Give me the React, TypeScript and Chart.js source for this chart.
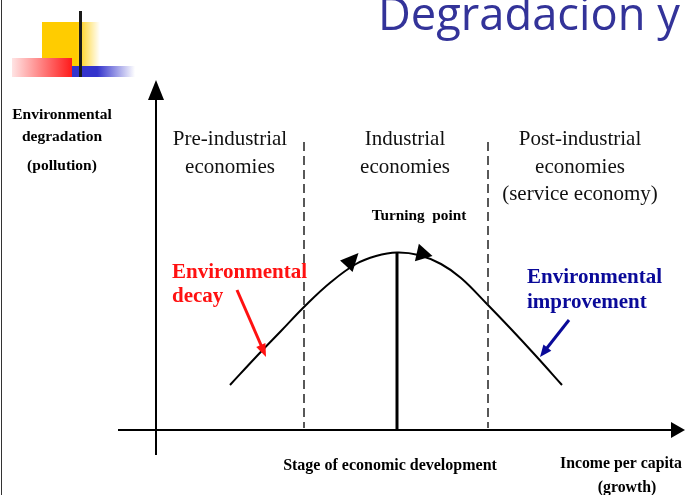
import React, { useEffect, useRef } from "react";
import { Chart, registerables } from "chart.js";

Chart.register(...registerables);

// ---- Data (income per capita units, environmental degradation units) ----
const curveIncome = [14.8, 20, 25, 30, 35, 40, 44, 48.2, 52.5, 57, 61, 66, 71, 76, 81.2];
const curveDegradation = [9.0, 14.6, 19.8, 25.0, 29.6, 33.2, 34.8, 35.5, 35.0, 33.2, 30.4, 25.4, 20.2, 14.8, 9.0];

const stageBoundaries = [29.6, 66.4];
const stageBoundaryTop = 57.6;
const turningPointIncome = 48.2;
const turningPointLevel = 35.5;

const stageNames = [
  ["Pre-industrial", "economies"],
  ["Industrial", "economies"],
  ["Post-industrial", "economies", "(service economy)"],
];
const stageCenters = [14.8, 49.8, 84.8];

const yAxisLabel = ["Environmental", "degradation", "(pollution)"];
const xAxisLabel = ["Income per capita", "(growth)"];
const stageLabel = "Stage of economic development";
const turningLabel = "Turning  point";
const decayLabel = ["Environmental", "decay"];
const improvementLabel = ["Environmental", "improvement"];
const titleText = "Degradacion y";

const RED = "#ff1111";
const NAVY = "#0a0a99";

type Arrow = { tip: [number, number]; from: [number, number]; len: number; half: number; color: string };
const arrows: Arrow[] = [
  { tip: [0, 70], from: [0, 60], len: 20, half: 8, color: "#000" },
  { tip: [105.8, 0], from: [95, 0], len: 14, half: 8, color: "#000" },
  { tip: [40.5, 35.4], from: [38.3, 33.0], len: 18, half: 8.5, color: "#000" },
  { tip: [55.3, 34.8], from: [52.2, 35.5], len: 16, half: 9, color: "#000" },
  { tip: [22.0, 14.6], from: [16.2, 28.0], len: 13, half: 5, color: RED },
  { tip: [76.8, 14.6], from: [82.6, 22.0], len: 12, half: 5, color: NAVY },
];

const decorPlugin = {
  id: "decor",
  beforeDraw(chart: any) {
    const ctx = chart.ctx as CanvasRenderingContext2D;
    ctx.save();
    ctx.fillStyle = "#fff";
    ctx.fillRect(0, 0, chart.width, chart.height);

    // slide border
    ctx.strokeStyle = "#333";
    ctx.lineWidth = 1;
    ctx.beginPath();
    ctx.moveTo(1.5, 0);
    ctx.lineTo(1.5, chart.height);
    ctx.stroke();

    // logo
    let g = ctx.createLinearGradient(42, 0, 100, 0);
    g.addColorStop(0, "#ffcc00");
    g.addColorStop(0.6, "#ffcc00");
    g.addColorStop(1, "rgba(255,204,0,0)");
    ctx.fillStyle = g;
    ctx.fillRect(42, 22, 58, 44);

    g = ctx.createLinearGradient(12, 0, 72, 0);
    g.addColorStop(0, "#ffe4e4");
    g.addColorStop(1, "#ff1a1a");
    ctx.fillStyle = g;
    ctx.fillRect(12, 58, 60, 19);

    g = ctx.createLinearGradient(72, 0, 135, 0);
    g.addColorStop(0, "#3333cc");
    g.addColorStop(0.4, "#3333cc");
    g.addColorStop(1, "rgba(51,51,204,0)");
    ctx.fillStyle = g;
    ctx.fillRect(72, 66, 63, 11);

    ctx.fillStyle = "#1a1a1a";
    ctx.fillRect(79, 11, 3, 66);

    // title
    ctx.fillStyle = "#333399";
    ctx.textAlign = "left";
    ctx.textBaseline = "alphabetic";
    ctx.font = '46px "Open Sans"';
    const w = ctx.measureText(titleText).width;
    const size = (46 * 302) / w;
    ctx.font = `${size}px "Open Sans"`;
    ctx.fillText(titleText, 378, 30);
    ctx.restore();
  },
  afterDatasetsDraw(chart: any) {
    const ctx = chart.ctx as CanvasRenderingContext2D;
    const xs = chart.scales.x;
    const ys = chart.scales.y;
    ctx.save();
    // arrowheads
    for (const a of arrows) {
      const tx = xs.getPixelForValue(a.tip[0]);
      const ty = ys.getPixelForValue(a.tip[1]);
      const fx = xs.getPixelForValue(a.from[0]);
      const fy = ys.getPixelForValue(a.from[1]);
      const ang = Math.atan2(ty - fy, tx - fx);
      const bx = tx - Math.cos(ang) * a.len;
      const by = ty - Math.sin(ang) * a.len;
      const px = -Math.sin(ang) * a.half;
      const py = Math.cos(ang) * a.half;
      ctx.fillStyle = a.color;
      ctx.beginPath();
      ctx.moveTo(tx, ty);
      ctx.lineTo(bx + px, by + py);
      ctx.lineTo(bx - px, by - py);
      ctx.closePath();
      ctx.fill();
    }

    const lines = (arr: string[], x: number, y0: number, dy: number, font: string, color: string, align: CanvasTextAlign) => {
      ctx.font = font;
      ctx.fillStyle = color;
      ctx.textAlign = align;
      ctx.textBaseline = "alphabetic";
      arr.forEach((t, i) => ctx.fillText(t, x, y0 + i * dy));
    };

    const serif = '"Liberation Serif", "Times New Roman", serif';
    // stage names
    stageNames.forEach((arr, i) => {
      lines(arr, xs.getPixelForValue(stageCenters[i]), 145, 27.5, `21px ${serif}`, "#111", "center");
    });
    // y-axis label
    lines([yAxisLabel[0]], 62, 119, 0, `bold 15.5px ${serif}`, "#000", "center");
    lines([yAxisLabel[1]], 62, 141, 0, `bold 15.5px ${serif}`, "#000", "center");
    lines([yAxisLabel[2]], 62, 170, 0, `bold 15.5px ${serif}`, "#000", "center");
    // turning point
    lines([turningLabel], 419, 220, 0, `bold 15.3px ${serif}`, "#000", "center");
    // decay / improvement
    lines(decayLabel, 172, 278, 24, `bold 21px ${serif}`, RED, "left");
    lines(improvementLabel, 527, 283, 25, `bold 21px ${serif}`, NAVY, "left");
    // bottom labels
    lines([stageLabel], 390, 470, 0, `bold 16px ${serif}`, "#000", "center");
    lines([xAxisLabel[0]], 621, 468, 0, `bold 15.8px ${serif}`, "#000", "center");
    lines([xAxisLabel[1]], 627, 492, 0, `bold 15.8px ${serif}`, "#000", "center");
    ctx.restore();
  },
};

const seg = (pts: [number, number][], color: string, width: number, dash: number[] = []) => ({
  data: pts.map(([x, y]) => ({ x, y })),
  showLine: true,
  borderColor: color,
  borderWidth: width,
  borderDash: dash,
  pointRadius: 0,
  clip: false as any,
  tension: 0,
});

export default function App() {
  const ref = useRef<HTMLCanvasElement | null>(null);
  useEffect(() => {
    if (!ref.current) return;
    const curve = {
      data: curveIncome.map((x, i) => ({ x, y: curveDegradation[i] })),
      showLine: true,
      borderColor: "#000",
      borderWidth: 2,
      pointRadius: 0,
      tension: 0.4,
      clip: false as any,
    };
    const chart = new Chart(ref.current, {
      type: "scatter",
      data: {
        datasets: [
          seg([[-7.6, 0], [103.2, 0]], "#000", 2),
          seg([[0, -5], [0, 67]], "#000", 2),
          ...stageBoundaries.map((b) => seg([[b, stageBoundaryTop], [b, 0.4]], "#222", 1.5, [9, 5])),
          seg([[turningPointIncome, 0], [turningPointIncome, turningPointLevel]], "#000", 3),
          curve as any,
          seg([[16.2, 28.0], [21.3, 16.3]], RED, 3),
          seg([[82.6, 22.0], [77.8, 15.9]], NAVY, 3),
        ],
      },
      options: {
        responsive: false,
        maintainAspectRatio: false,
        animation: false,
        devicePixelRatio: 1,
        layout: { padding: 0 },
        plugins: { legend: { display: false }, tooltip: { enabled: false } },
        scales: {
          x: { type: "linear", min: -31.2, max: 105.8, display: false },
          y: { type: "linear", min: -13, max: 86, display: false },
        },
      },
      plugins: [decorPlugin],
    });
    return () => chart.destroy();
  }, []);
  return (
    <div style={{ position: "fixed", left: 0, top: 0, width: 685, height: 495, background: "#fff" }}>
      <canvas ref={ref} width={685} height={495} style={{ display: "block", width: 685, height: 495 }} />
    </div>
  );
}
